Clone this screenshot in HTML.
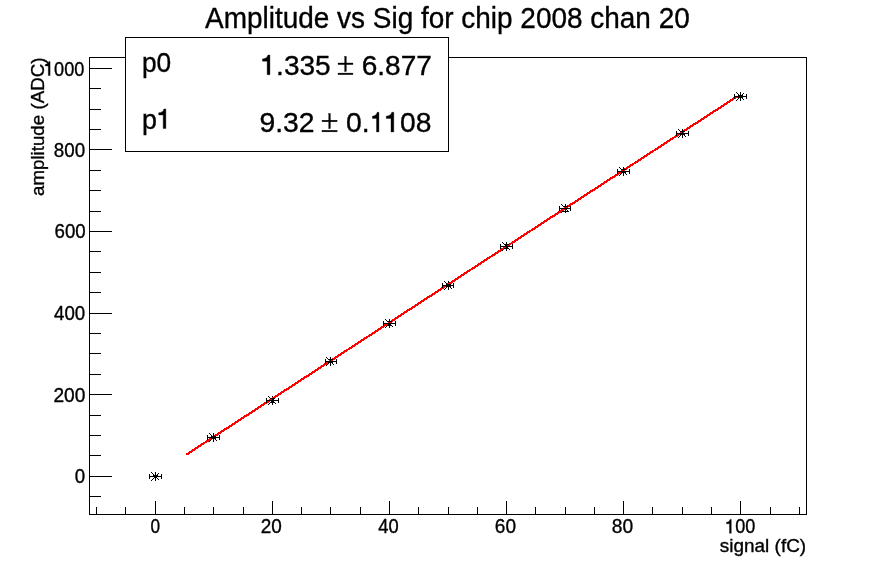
<!DOCTYPE html>
<html><head><meta charset="utf-8"><style>
html,body{margin:0;padding:0;background:#fff;}
svg{display:block;}
text{font-family:"Liberation Sans",sans-serif;fill:#000;stroke:#000;stroke-width:0.35px;}
</style></head><body>
<svg width="896" height="572" viewBox="0 0 896 572" style="will-change:transform">
<rect x="0" y="0" width="896" height="572" fill="#fff"/>
<g fill="#000" shape-rendering="crispEdges">
<rect x="89" y="57" width="718" height="1"/>
<rect x="89" y="514" width="718" height="1"/>
<rect x="89" y="57" width="1" height="458"/>
<rect x="806" y="57" width="1" height="458"/>
<rect x="96" y="507" width="1" height="7"/>
<rect x="125" y="507" width="1" height="7"/>
<rect x="155" y="501" width="1" height="13"/>
<rect x="184" y="507" width="1" height="7"/>
<rect x="213" y="507" width="1" height="7"/>
<rect x="243" y="507" width="1" height="7"/>
<rect x="272" y="501" width="1" height="13"/>
<rect x="301" y="507" width="1" height="7"/>
<rect x="330" y="507" width="1" height="7"/>
<rect x="360" y="507" width="1" height="7"/>
<rect x="389" y="501" width="1" height="13"/>
<rect x="418" y="507" width="1" height="7"/>
<rect x="448" y="507" width="1" height="7"/>
<rect x="477" y="507" width="1" height="7"/>
<rect x="506" y="501" width="1" height="13"/>
<rect x="535" y="507" width="1" height="7"/>
<rect x="565" y="507" width="1" height="7"/>
<rect x="594" y="507" width="1" height="7"/>
<rect x="623" y="501" width="1" height="13"/>
<rect x="652" y="507" width="1" height="7"/>
<rect x="682" y="507" width="1" height="7"/>
<rect x="711" y="507" width="1" height="7"/>
<rect x="740" y="501" width="1" height="13"/>
<rect x="770" y="507" width="1" height="7"/>
<rect x="799" y="507" width="1" height="7"/>
<rect x="90" y="496" width="11" height="1"/>
<rect x="90" y="476" width="22" height="1"/>
<rect x="90" y="455" width="11" height="1"/>
<rect x="90" y="435" width="11" height="1"/>
<rect x="90" y="415" width="11" height="1"/>
<rect x="90" y="394" width="22" height="1"/>
<rect x="90" y="374" width="11" height="1"/>
<rect x="90" y="353" width="11" height="1"/>
<rect x="90" y="333" width="11" height="1"/>
<rect x="90" y="313" width="22" height="1"/>
<rect x="90" y="292" width="11" height="1"/>
<rect x="90" y="272" width="11" height="1"/>
<rect x="90" y="251" width="11" height="1"/>
<rect x="90" y="231" width="22" height="1"/>
<rect x="90" y="211" width="11" height="1"/>
<rect x="90" y="190" width="11" height="1"/>
<rect x="90" y="170" width="11" height="1"/>
<rect x="90" y="149" width="22" height="1"/>
<rect x="90" y="129" width="11" height="1"/>
<rect x="90" y="109" width="11" height="1"/>
<rect x="90" y="88" width="11" height="1"/>
<rect x="90" y="68" width="22" height="1"/>
</g>
<g fill="#000" shape-rendering="crispEdges">
<rect x="155" y="472" width="1" height="9"/>
<rect x="151" y="476" width="9" height="1"/>
<rect x="151" y="472" width="1" height="1"/>
<rect x="151" y="480" width="1" height="1"/>
<rect x="152" y="473" width="1" height="1"/>
<rect x="152" y="479" width="1" height="1"/>
<rect x="153" y="474" width="1" height="1"/>
<rect x="153" y="478" width="1" height="1"/>
<rect x="154" y="475" width="1" height="1"/>
<rect x="154" y="477" width="1" height="1"/>
<rect x="155" y="476" width="1" height="1"/>
<rect x="155" y="476" width="1" height="1"/>
<rect x="156" y="477" width="1" height="1"/>
<rect x="156" y="475" width="1" height="1"/>
<rect x="157" y="478" width="1" height="1"/>
<rect x="157" y="474" width="1" height="1"/>
<rect x="158" y="479" width="1" height="1"/>
<rect x="158" y="473" width="1" height="1"/>
<rect x="213" y="433" width="1" height="9"/>
<rect x="209" y="437" width="9" height="1"/>
<rect x="209" y="433" width="1" height="1"/>
<rect x="209" y="441" width="1" height="1"/>
<rect x="210" y="434" width="1" height="1"/>
<rect x="210" y="440" width="1" height="1"/>
<rect x="211" y="435" width="1" height="1"/>
<rect x="211" y="439" width="1" height="1"/>
<rect x="212" y="436" width="1" height="1"/>
<rect x="212" y="438" width="1" height="1"/>
<rect x="213" y="437" width="1" height="1"/>
<rect x="213" y="437" width="1" height="1"/>
<rect x="214" y="438" width="1" height="1"/>
<rect x="214" y="436" width="1" height="1"/>
<rect x="215" y="439" width="1" height="1"/>
<rect x="215" y="435" width="1" height="1"/>
<rect x="216" y="440" width="1" height="1"/>
<rect x="216" y="434" width="1" height="1"/>
<rect x="272" y="396" width="1" height="9"/>
<rect x="268" y="400" width="9" height="1"/>
<rect x="268" y="396" width="1" height="1"/>
<rect x="268" y="404" width="1" height="1"/>
<rect x="269" y="397" width="1" height="1"/>
<rect x="269" y="403" width="1" height="1"/>
<rect x="270" y="398" width="1" height="1"/>
<rect x="270" y="402" width="1" height="1"/>
<rect x="271" y="399" width="1" height="1"/>
<rect x="271" y="401" width="1" height="1"/>
<rect x="272" y="400" width="1" height="1"/>
<rect x="272" y="400" width="1" height="1"/>
<rect x="273" y="401" width="1" height="1"/>
<rect x="273" y="399" width="1" height="1"/>
<rect x="274" y="402" width="1" height="1"/>
<rect x="274" y="398" width="1" height="1"/>
<rect x="275" y="403" width="1" height="1"/>
<rect x="275" y="397" width="1" height="1"/>
<rect x="330" y="357" width="1" height="9"/>
<rect x="326" y="361" width="9" height="1"/>
<rect x="326" y="357" width="1" height="1"/>
<rect x="326" y="365" width="1" height="1"/>
<rect x="327" y="358" width="1" height="1"/>
<rect x="327" y="364" width="1" height="1"/>
<rect x="328" y="359" width="1" height="1"/>
<rect x="328" y="363" width="1" height="1"/>
<rect x="329" y="360" width="1" height="1"/>
<rect x="329" y="362" width="1" height="1"/>
<rect x="330" y="361" width="1" height="1"/>
<rect x="330" y="361" width="1" height="1"/>
<rect x="331" y="362" width="1" height="1"/>
<rect x="331" y="360" width="1" height="1"/>
<rect x="332" y="363" width="1" height="1"/>
<rect x="332" y="359" width="1" height="1"/>
<rect x="333" y="364" width="1" height="1"/>
<rect x="333" y="358" width="1" height="1"/>
<rect x="389" y="319" width="1" height="9"/>
<rect x="385" y="323" width="9" height="1"/>
<rect x="385" y="319" width="1" height="1"/>
<rect x="385" y="327" width="1" height="1"/>
<rect x="386" y="320" width="1" height="1"/>
<rect x="386" y="326" width="1" height="1"/>
<rect x="387" y="321" width="1" height="1"/>
<rect x="387" y="325" width="1" height="1"/>
<rect x="388" y="322" width="1" height="1"/>
<rect x="388" y="324" width="1" height="1"/>
<rect x="389" y="323" width="1" height="1"/>
<rect x="389" y="323" width="1" height="1"/>
<rect x="390" y="324" width="1" height="1"/>
<rect x="390" y="322" width="1" height="1"/>
<rect x="391" y="325" width="1" height="1"/>
<rect x="391" y="321" width="1" height="1"/>
<rect x="392" y="326" width="1" height="1"/>
<rect x="392" y="320" width="1" height="1"/>
<rect x="448" y="281" width="1" height="9"/>
<rect x="444" y="285" width="9" height="1"/>
<rect x="444" y="281" width="1" height="1"/>
<rect x="444" y="289" width="1" height="1"/>
<rect x="445" y="282" width="1" height="1"/>
<rect x="445" y="288" width="1" height="1"/>
<rect x="446" y="283" width="1" height="1"/>
<rect x="446" y="287" width="1" height="1"/>
<rect x="447" y="284" width="1" height="1"/>
<rect x="447" y="286" width="1" height="1"/>
<rect x="448" y="285" width="1" height="1"/>
<rect x="448" y="285" width="1" height="1"/>
<rect x="449" y="286" width="1" height="1"/>
<rect x="449" y="284" width="1" height="1"/>
<rect x="450" y="287" width="1" height="1"/>
<rect x="450" y="283" width="1" height="1"/>
<rect x="451" y="288" width="1" height="1"/>
<rect x="451" y="282" width="1" height="1"/>
<rect x="506" y="242" width="1" height="9"/>
<rect x="502" y="246" width="9" height="1"/>
<rect x="502" y="242" width="1" height="1"/>
<rect x="502" y="250" width="1" height="1"/>
<rect x="503" y="243" width="1" height="1"/>
<rect x="503" y="249" width="1" height="1"/>
<rect x="504" y="244" width="1" height="1"/>
<rect x="504" y="248" width="1" height="1"/>
<rect x="505" y="245" width="1" height="1"/>
<rect x="505" y="247" width="1" height="1"/>
<rect x="506" y="246" width="1" height="1"/>
<rect x="506" y="246" width="1" height="1"/>
<rect x="507" y="247" width="1" height="1"/>
<rect x="507" y="245" width="1" height="1"/>
<rect x="508" y="248" width="1" height="1"/>
<rect x="508" y="244" width="1" height="1"/>
<rect x="509" y="249" width="1" height="1"/>
<rect x="509" y="243" width="1" height="1"/>
<rect x="565" y="204" width="1" height="9"/>
<rect x="561" y="208" width="9" height="1"/>
<rect x="561" y="204" width="1" height="1"/>
<rect x="561" y="212" width="1" height="1"/>
<rect x="562" y="205" width="1" height="1"/>
<rect x="562" y="211" width="1" height="1"/>
<rect x="563" y="206" width="1" height="1"/>
<rect x="563" y="210" width="1" height="1"/>
<rect x="564" y="207" width="1" height="1"/>
<rect x="564" y="209" width="1" height="1"/>
<rect x="565" y="208" width="1" height="1"/>
<rect x="565" y="208" width="1" height="1"/>
<rect x="566" y="209" width="1" height="1"/>
<rect x="566" y="207" width="1" height="1"/>
<rect x="567" y="210" width="1" height="1"/>
<rect x="567" y="206" width="1" height="1"/>
<rect x="568" y="211" width="1" height="1"/>
<rect x="568" y="205" width="1" height="1"/>
<rect x="623" y="167" width="1" height="9"/>
<rect x="619" y="171" width="9" height="1"/>
<rect x="619" y="167" width="1" height="1"/>
<rect x="619" y="175" width="1" height="1"/>
<rect x="620" y="168" width="1" height="1"/>
<rect x="620" y="174" width="1" height="1"/>
<rect x="621" y="169" width="1" height="1"/>
<rect x="621" y="173" width="1" height="1"/>
<rect x="622" y="170" width="1" height="1"/>
<rect x="622" y="172" width="1" height="1"/>
<rect x="623" y="171" width="1" height="1"/>
<rect x="623" y="171" width="1" height="1"/>
<rect x="624" y="172" width="1" height="1"/>
<rect x="624" y="170" width="1" height="1"/>
<rect x="625" y="173" width="1" height="1"/>
<rect x="625" y="169" width="1" height="1"/>
<rect x="626" y="174" width="1" height="1"/>
<rect x="626" y="168" width="1" height="1"/>
<rect x="682" y="129" width="1" height="9"/>
<rect x="678" y="133" width="9" height="1"/>
<rect x="678" y="129" width="1" height="1"/>
<rect x="678" y="137" width="1" height="1"/>
<rect x="679" y="130" width="1" height="1"/>
<rect x="679" y="136" width="1" height="1"/>
<rect x="680" y="131" width="1" height="1"/>
<rect x="680" y="135" width="1" height="1"/>
<rect x="681" y="132" width="1" height="1"/>
<rect x="681" y="134" width="1" height="1"/>
<rect x="682" y="133" width="1" height="1"/>
<rect x="682" y="133" width="1" height="1"/>
<rect x="683" y="134" width="1" height="1"/>
<rect x="683" y="132" width="1" height="1"/>
<rect x="684" y="135" width="1" height="1"/>
<rect x="684" y="131" width="1" height="1"/>
<rect x="685" y="136" width="1" height="1"/>
<rect x="685" y="130" width="1" height="1"/>
<rect x="740" y="92" width="1" height="9"/>
<rect x="736" y="96" width="9" height="1"/>
<rect x="736" y="92" width="1" height="1"/>
<rect x="736" y="100" width="1" height="1"/>
<rect x="737" y="93" width="1" height="1"/>
<rect x="737" y="99" width="1" height="1"/>
<rect x="738" y="94" width="1" height="1"/>
<rect x="738" y="98" width="1" height="1"/>
<rect x="739" y="95" width="1" height="1"/>
<rect x="739" y="97" width="1" height="1"/>
<rect x="740" y="96" width="1" height="1"/>
<rect x="740" y="96" width="1" height="1"/>
<rect x="741" y="97" width="1" height="1"/>
<rect x="741" y="95" width="1" height="1"/>
<rect x="742" y="98" width="1" height="1"/>
<rect x="742" y="94" width="1" height="1"/>
<rect x="743" y="99" width="1" height="1"/>
<rect x="743" y="93" width="1" height="1"/>
</g>
<line x1="186.5" y1="454.54" x2="737.0" y2="96.54" stroke="#f00" stroke-width="2.2" shape-rendering="crispEdges"/>
<g fill="#000" shape-rendering="crispEdges">
<rect x="149" y="476" width="13" height="1"/>
<rect x="149" y="474" width="1" height="5"/>
<rect x="161" y="474" width="1" height="5"/>
<rect x="153" y="475" width="5" height="1"/>
<rect x="155" y="475" width="1" height="2"/>
<rect x="207" y="437" width="13" height="1"/>
<rect x="207" y="435" width="1" height="5"/>
<rect x="219" y="435" width="1" height="5"/>
<rect x="211" y="436" width="5" height="1"/>
<rect x="211" y="438" width="5" height="1"/>
<rect x="213" y="436" width="1" height="3"/>
<rect x="266" y="400" width="13" height="1"/>
<rect x="266" y="398" width="1" height="5"/>
<rect x="278" y="398" width="1" height="5"/>
<rect x="270" y="398" width="5" height="1"/>
<rect x="270" y="402" width="5" height="1"/>
<rect x="272" y="398" width="1" height="5"/>
<rect x="325" y="361" width="12" height="1"/>
<rect x="325" y="359" width="1" height="5"/>
<rect x="336" y="359" width="1" height="5"/>
<rect x="328" y="359" width="5" height="1"/>
<rect x="328" y="362" width="5" height="1"/>
<rect x="330" y="359" width="1" height="4"/>
<rect x="383" y="323" width="13" height="1"/>
<rect x="383" y="321" width="1" height="5"/>
<rect x="395" y="321" width="1" height="5"/>
<rect x="387" y="321" width="5" height="1"/>
<rect x="387" y="325" width="5" height="1"/>
<rect x="389" y="321" width="1" height="5"/>
<rect x="442" y="285" width="12" height="1"/>
<rect x="442" y="283" width="1" height="5"/>
<rect x="453" y="283" width="1" height="5"/>
<rect x="446" y="284" width="5" height="1"/>
<rect x="446" y="286" width="5" height="1"/>
<rect x="448" y="284" width="1" height="3"/>
<rect x="500" y="246" width="13" height="1"/>
<rect x="500" y="244" width="1" height="5"/>
<rect x="512" y="244" width="1" height="5"/>
<rect x="504" y="244" width="5" height="1"/>
<rect x="504" y="248" width="5" height="1"/>
<rect x="506" y="244" width="1" height="5"/>
<rect x="559" y="208" width="12" height="1"/>
<rect x="559" y="206" width="1" height="5"/>
<rect x="570" y="206" width="1" height="5"/>
<rect x="563" y="206" width="5" height="1"/>
<rect x="563" y="211" width="5" height="1"/>
<rect x="565" y="206" width="1" height="6"/>
<rect x="617" y="171" width="13" height="1"/>
<rect x="617" y="169" width="1" height="5"/>
<rect x="629" y="169" width="1" height="5"/>
<rect x="621" y="169" width="5" height="1"/>
<rect x="621" y="172" width="5" height="1"/>
<rect x="623" y="169" width="1" height="4"/>
<rect x="676" y="133" width="13" height="1"/>
<rect x="676" y="131" width="1" height="5"/>
<rect x="688" y="131" width="1" height="5"/>
<rect x="680" y="131" width="5" height="1"/>
<rect x="680" y="134" width="5" height="1"/>
<rect x="682" y="131" width="1" height="4"/>
<rect x="734" y="96" width="13" height="1"/>
<rect x="734" y="94" width="1" height="5"/>
<rect x="746" y="94" width="1" height="5"/>
<rect x="738" y="95" width="5" height="1"/>
<rect x="738" y="97" width="5" height="1"/>
<rect x="740" y="95" width="1" height="3"/>
</g>
<text x="205.00" y="27.80" font-size="29.0" textLength="484.77" lengthAdjust="spacingAndGlyphs">Amplitude vs Sig for chip 2008 chan 20</text>
<text x="150.50" y="533.30" font-size="19.4" textLength="9.60" lengthAdjust="spacingAndGlyphs">0</text>
<text x="260.75" y="533.30" font-size="19.4" textLength="21.08" lengthAdjust="spacingAndGlyphs">20</text>
<text x="378.30" y="533.30" font-size="19.4" textLength="20.38" lengthAdjust="spacingAndGlyphs">40</text>
<text x="494.80" y="533.30" font-size="19.4" textLength="21.18" lengthAdjust="spacingAndGlyphs">60</text>
<text x="611.80" y="533.30" font-size="19.4" textLength="21.38" lengthAdjust="spacingAndGlyphs">80</text>
<text x="725.20" y="533.30" font-size="19.4" textLength="30.17" lengthAdjust="spacingAndGlyphs"><tspan style="fill:none;stroke:none">1</tspan>00</text><g fill="#000" stroke="#000" stroke-width="0.35"><path d="M731.28,533.30 L731.28,519.41 L729.99,519.41 C729.63,520.98 728.64,521.95 726.47,522.18 L726.47,523.74 L729.49,523.74 L729.49,533.30 Z"/></g>
<text x="74.80" y="483.40" font-size="19.4" textLength="10.40" lengthAdjust="spacingAndGlyphs">0</text>
<text x="53.40" y="401.50" font-size="19.4" textLength="31.96" lengthAdjust="spacingAndGlyphs">200</text>
<text x="54.00" y="320.40" font-size="19.4" textLength="31.16" lengthAdjust="spacingAndGlyphs">400</text>
<text x="54.50" y="238.40" font-size="19.4" textLength="31.16" lengthAdjust="spacingAndGlyphs">600</text>
<text x="53.80" y="156.50" font-size="19.4" textLength="31.36" lengthAdjust="spacingAndGlyphs">800</text>
<text x="44.00" y="75.50" font-size="19.4" textLength="40.36" lengthAdjust="spacingAndGlyphs"><tspan style="fill:none;stroke:none">1</tspan>000</text><g fill="#000" stroke="#000" stroke-width="0.35"><path d="M50.10,75.50 L50.10,61.61 L48.81,61.61 C48.45,63.18 47.45,64.15 45.27,64.38 L45.27,65.94 L48.30,65.94 L48.30,75.50 Z"/></g>
<text x="719.80" y="552.00" font-size="19.0" textLength="86.38" lengthAdjust="spacingAndGlyphs">signal (fC)</text>
<text transform="translate(43.90,196.00) rotate(-90)" font-size="19.2" textLength="138.43" lengthAdjust="spacingAndGlyphs">amplitude (ADC)</text>
<!-- stats box -->
<rect x="125.5" y="37.5" width="323" height="114" fill="#fff" stroke="#000" stroke-width="1" shape-rendering="crispEdges"/>
<text x="141.90" y="72.00" font-size="27.4" textLength="29.27" lengthAdjust="spacingAndGlyphs">p0</text>
<text x="141.90" y="128.50" font-size="27.4" textLength="29.87" lengthAdjust="spacingAndGlyphs">p<tspan style="fill:none;stroke:none">1</tspan></text><g fill="#000" stroke="#000" stroke-width="0.35"><path d="M165.86,128.50 L165.86,108.88 L163.95,108.88 C163.41,111.10 161.94,112.47 158.71,112.80 L158.71,114.99 L163.20,114.99 L163.20,128.50 Z"/></g>
<text x="260.50" y="74.70" font-size="27.4" textLength="171.36" lengthAdjust="spacingAndGlyphs"><tspan style="fill:none;stroke:none">1</tspan>.335 <tspan style="fill:none;stroke:none">±</tspan> 6.877</text><g fill="#000" stroke="#000" stroke-width="0.35"><path d="M269.92,74.70 L269.92,55.08 L267.93,55.08 C267.37,57.30 265.83,58.67 262.46,59.00 L262.46,61.19 L267.15,61.19 L267.15,74.70 Z"/><rect x="338.00" y="63.00" width="14.96" height="1.59"/><rect x="338.00" y="73.08" width="14.96" height="1.59"/><rect x="344.69" y="56.40" width="1.59" height="15.10"/></g>
<text x="259.50" y="131.90" font-size="27.4" textLength="110.04" lengthAdjust="spacingAndGlyphs">9.32 <tspan style="fill:none;stroke:none">±</tspan> 0.</text><g fill="#000" stroke="#000" stroke-width="0.35"><rect x="322.01" y="120.20" width="15.11" height="1.59"/><rect x="322.01" y="130.28" width="15.11" height="1.59"/><rect x="328.77" y="113.60" width="1.59" height="15.10"/></g>
<text x="370.70" y="131.90" font-size="27.4" textLength="60.71" lengthAdjust="spacingAndGlyphs"><tspan style="fill:none;stroke:none">1</tspan><tspan style="fill:none;stroke:none">1</tspan>08</text><g fill="#000" stroke="#000" stroke-width="0.35"><path d="M378.92,131.90 L378.92,112.28 L377.18,112.28 C376.69,114.50 375.35,115.87 372.41,116.20 L372.41,118.39 L376.50,118.39 L376.50,131.90 Z"/><path d="M393.79,131.90 L393.79,112.28 L391.79,112.28 C391.22,114.50 389.67,115.87 386.28,116.20 L386.28,118.39 L391.00,118.39 L391.00,131.90 Z"/></g>
</svg>
</body></html>
